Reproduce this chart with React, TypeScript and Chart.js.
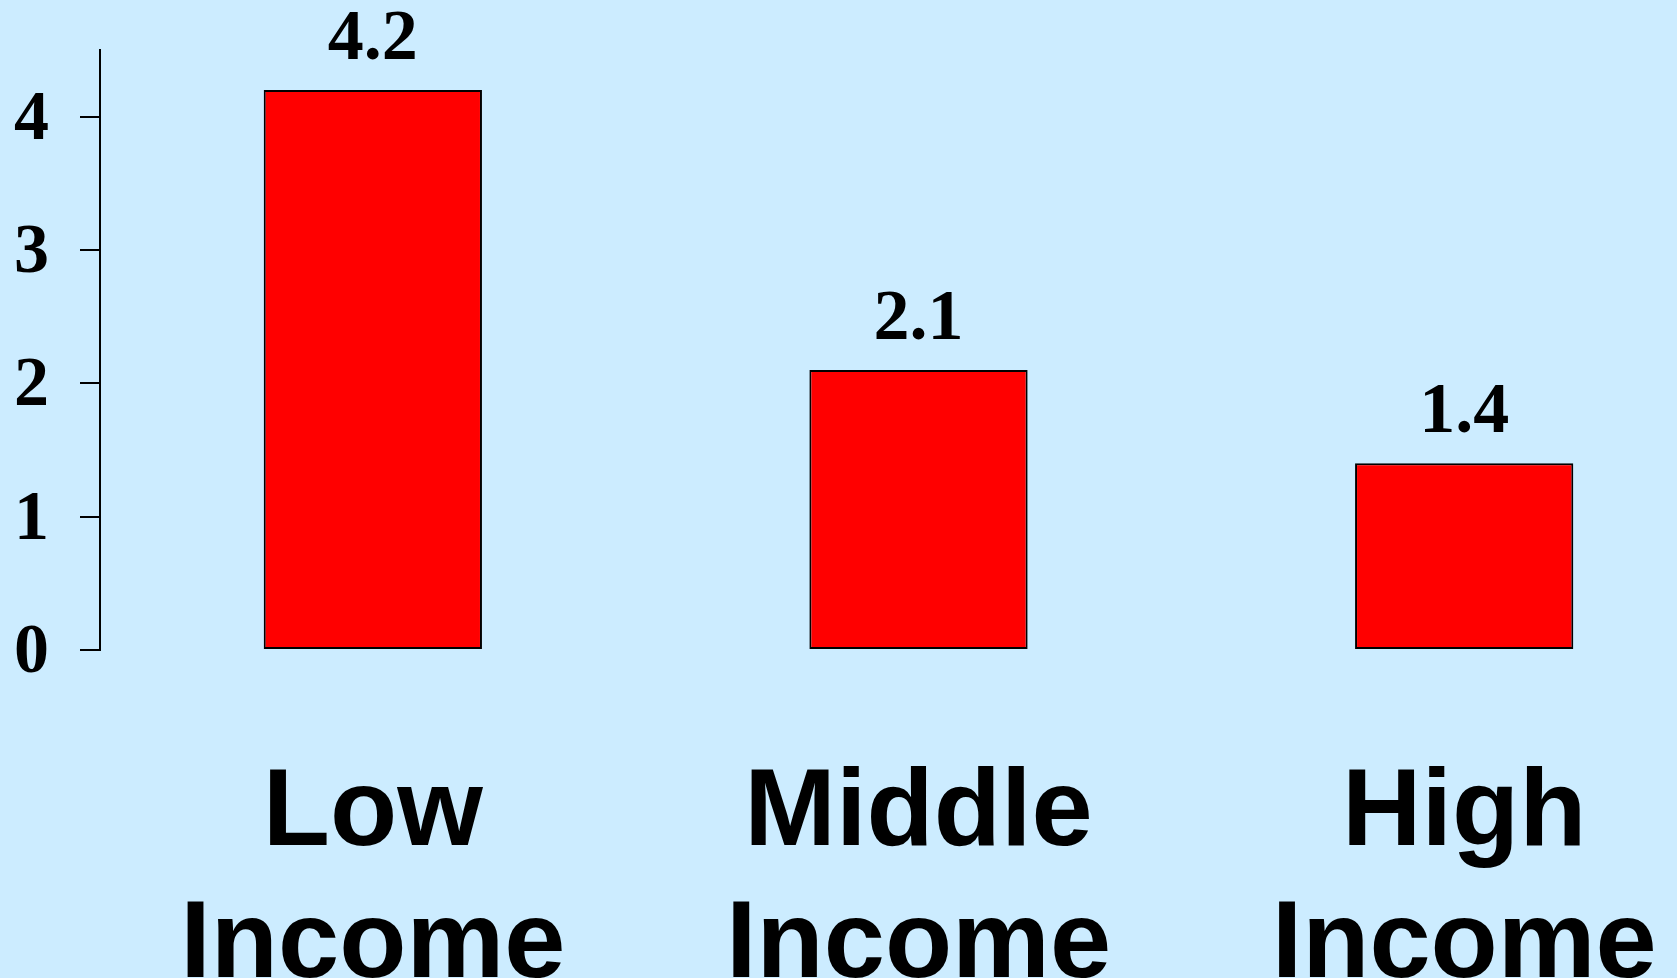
import { useEffect, useRef } from "react";
import { Chart, registerables } from "chart.js";

Chart.register(...registerables);

const categories = ["Low Income", "Middle Income", "High Income"];
const values = [4.2, 2.1, 1.4];
const yTicks = [0, 1, 2, 3, 4];

const valueLabels = {
  id: "valueLabels",
  afterDatasetsDraw(chart: any) {
    const { ctx } = chart;
    const meta = chart.getDatasetMeta(0);
    ctx.save();
    ctx.font = "bold 72px 'Liberation Serif'";
    ctx.fillStyle = "#000000";
    ctx.textAlign = "center";
    ctx.textBaseline = "alphabetic";
    meta.data.forEach((el: any, i: number) => {
      ctx.fillText(values[i].toFixed(1), el.x, el.y - 31);
    });
    ctx.restore();
  },
};

export default function App() {
  const ref = useRef<HTMLCanvasElement | null>(null);

  useEffect(() => {
    if (!ref.current) return;
    const chart = new Chart(ref.current, {
      type: "bar",
      data: {
        datasets: [
          {
            data: values.map((v, i) => ({ x: i, y: v })),
            backgroundColor: "#FF0000",
            borderColor: "#000000",
            borderWidth: 2,
            borderSkipped: false,
            categoryPercentage: 1,
            barPercentage: 0.4,
          },
        ],
      },
      options: {
        animation: false,
        responsive: false,
        maintainAspectRatio: false,
        layout: { padding: { top: 50, right: 0, left: 0, bottom: 0 } },
        plugins: {
          legend: { display: false },
          tooltip: { enabled: false },
        },
        scales: {
          x: {
            type: "linear",
            offset: false,
            min: -0.5,
            max: 2.39,
            grid: { display: false, drawTicks: false, offset: false },
            border: { display: false },
            afterBuildTicks: (s: any) => {
              s.ticks = categories.map((_, i) => ({ value: i }));
            },
            afterFit: (s: any) => {
              s.height = 328;
              s.paddingLeft = 0;
              s.paddingRight = 0;
            },
            ticks: {
              autoSkip: false,
              maxRotation: 0,
              minRotation: 0,
              padding: 99,
              color: "#000000",
              font: { family: "'Liberation Sans'", size: 110, weight: "bold", lineHeight: 1.2 },
              callback: (v: any) => (categories[v as number] || "").split(" "),
            },
          },
          y: {
            min: 0,
            max: 4.5,
            afterBuildTicks: (s: any) => {
              s.ticks = yTicks.map((v) => ({ value: v }));
            },
            afterFit: (s: any) => {
              s.width = 100;
              s.paddingTop = 0;
              s.paddingBottom = 0;
            },
            grid: {
              display: true,
              drawOnChartArea: false,
              drawTicks: true,
              tickLength: 20,
              color: "#000000",
              lineWidth: 2,
            },
            border: { display: true, color: "#000000", width: 2 },
            ticks: {
              padding: 31,
              labelOffset: 4,
              color: "#000000",
              font: { family: "'Liberation Serif'", size: 70, weight: "bold" },
            },
          },
        },
      },
      plugins: [valueLabels],
    } as any);
    return () => chart.destroy();
  }, []);

  return (
    <div
      style={{
        position: "absolute",
        left: 0,
        top: 0,
        width: 1677,
        height: 978,
        background: "#CCECFF",
        overflow: "hidden",
      }}
    >
      <canvas ref={ref} width={1677} height={978} style={{ display: "block" }} />
    </div>
  );
}
